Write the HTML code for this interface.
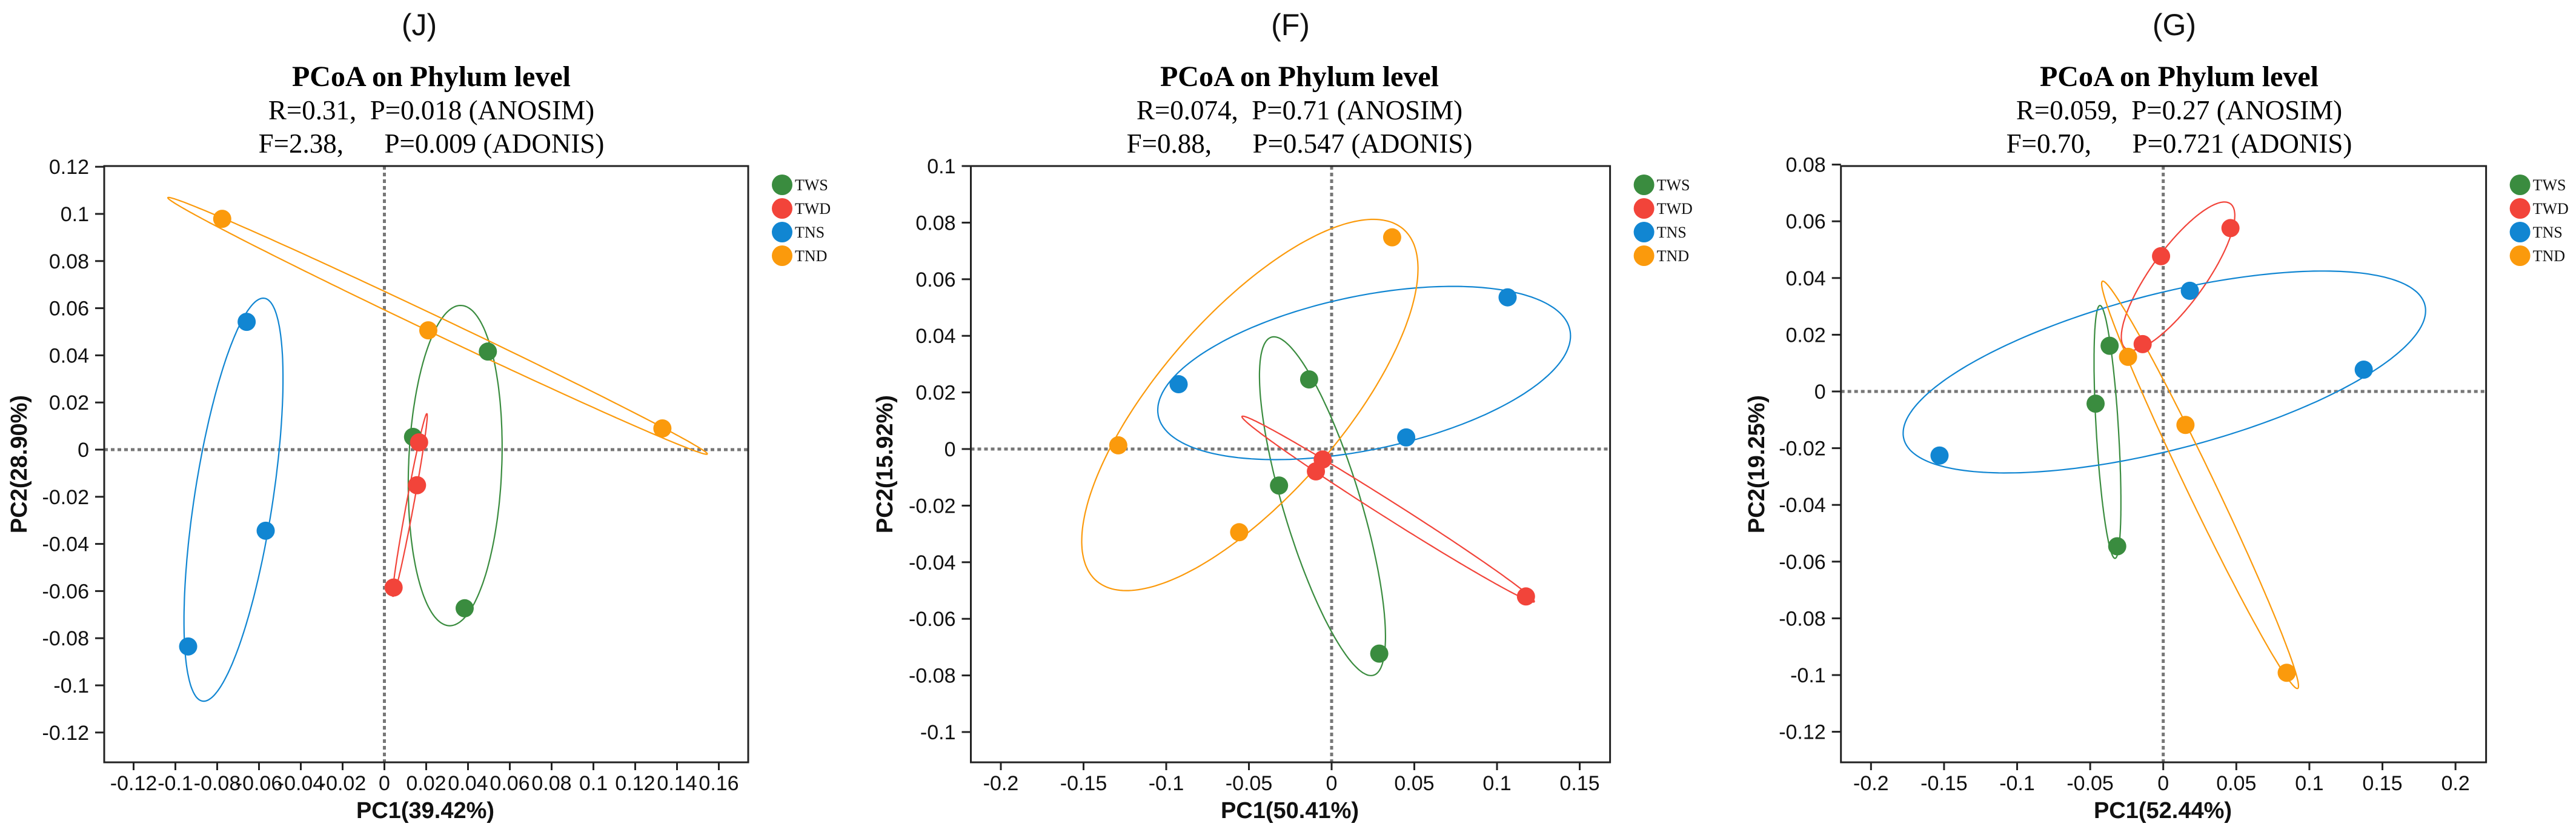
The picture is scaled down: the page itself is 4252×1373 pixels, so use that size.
<!DOCTYPE html>
<html><head><meta charset="utf-8"><style>
html,body{margin:0;padding:0;background:#fff;}
svg{display:block;}
text{white-space:pre;}
</style></head><body>
<svg id="fig" xmlns="http://www.w3.org/2000/svg" width="4252" height="1373" viewBox="0 0 4252 1373"></svg>
<script>
// ---------- data ----------
const groups = ['TWS','TWD','TNS','TND'];
const groupColors = ['#3a8c3f','#f2443a','#1186d2','#fb9a0c'];

// Panel J
const jTWSx = [0.0137, 0.0495, 0.0384];  const jTWSy = [0.0054, 0.0416, -0.0673];
const jTWDx = [0.0166, 0.0156, 0.0044];  const jTWDy = [0.0031, -0.0151, -0.0585];
const jTNSx = [-0.0659, -0.0568, -0.0939]; const jTNSy = [0.0542, -0.0344, -0.0835];
const jTNDx = [-0.0776, 0.021, 0.133];   const jTNDy = [0.0979, 0.0506, 0.009];
const jXTicks = [-0.12,-0.1,-0.08,-0.06,-0.04,-0.02,0,0.02,0.04,0.06,0.08,0.1,0.12,0.14,0.16];
const jYTicks = [0.12,0.1,0.08,0.06,0.04,0.02,0,-0.02,-0.04,-0.06,-0.08,-0.1,-0.12];

// Panel F
const fTWSx = [-0.0136, -0.0318, 0.0288]; const fTWSy = [0.0246, -0.0129, -0.0723];
const fTWDx = [-0.0054, -0.0095, 0.1175]; const fTWDy = [-0.0037, -0.0079, -0.0521];
const fTNSx = [-0.0925, 0.0451, 0.1064];  const fTNSy = [0.0229, 0.0041, 0.0536];
const fTNDx = [-0.129, -0.0559, 0.0366];  const fTNDy = [0.0013, -0.0294, 0.0748];
const fXTicks = [-0.2,-0.15,-0.1,-0.05,0,0.05,0.1,0.15];
const fYTicks = [0.1,0.08,0.06,0.04,0.02,0,-0.02,-0.04,-0.06,-0.08,-0.1];

// Panel G
const gTWSx = [-0.0367, -0.0463, -0.0315]; const gTWSy = [0.0161, -0.0043, -0.0546];
const gTWDx = [-0.0015, 0.046, -0.0141];   const gTWDy = [0.0477, 0.0576, 0.0167];
const gTNSx = [-0.1531, 0.0182, 0.1372];   const gTNSy = [-0.0226, 0.0355, 0.0077];
const gTNDx = [-0.0241, 0.0152, 0.0845];   const gTNDy = [0.0122, -0.0118, -0.0992];
const gXTicks = [-0.2,-0.15,-0.1,-0.05,0,0.05,0.1,0.15,0.2];
const gYTicks = [0.08,0.06,0.04,0.02,0,-0.02,-0.04,-0.06,-0.08,-0.1,-0.12];

const ellipseScale = 1.225;

// ---------- layout ----------
const NS = 'http://www.w3.org/2000/svg';
const svg = document.getElementById('fig');
function mk(tag, attrs, parent){
  const e = document.createElementNS(NS, tag);
  for (const k in attrs) e.setAttribute(k, attrs[k]);
  (parent||svg).appendChild(e);
  return e;
}
function txt(str, attrs, parent){ const t = mk('text', attrs, parent); t.textContent = str; return t; }

const panels = [
  { id:'j', label:'(J)', labelX:692, titleX:712, r:'R=0.31,  P=0.018 (ANOSIM)', f:'F=2.38,      P=0.009 (ADONIS)',
    box:[172,274,1235,1258], x0:634.5, xUnit:0.02, xPx:69.0, y0:742, yUnit:0.02, yPx:77.8,
    xt:jXTicks, yt:jYTicks, xTitle:'PC1(39.42%)', xTitleX:702, yTitle:'PC2(28.90%)', yTitleX:31,
    xs:[jTWSx,jTWDx,jTNSx,jTNDx], ys:[jTWSy,jTWDy,jTNSy,jTNDy] },
  { id:'f', label:'(F)', labelX:2130, titleX:2145, r:'R=0.074,  P=0.71 (ANOSIM)', f:'F=0.88,      P=0.547 (ADONIS)',
    box:[1602.5,274,2657.6,1258], x0:2198, xUnit:0.05, xPx:136.5, y0:741, yUnit:0.02, yPx:93.4,
    xt:fXTicks, yt:fYTicks, xTitle:'PC1(50.41%)', xTitleX:2129, yTitle:'PC2(15.92%)', yTitleX:1460,
    xs:[fTWSx,fTWDx,fTNSx,fTNDx], ys:[fTWSy,fTWDy,fTNSy,fTNDy] },
  { id:'g', label:'(G)', labelX:3589, titleX:3597, r:'R=0.059,  P=0.27 (ANOSIM)', f:'F=0.70,      P=0.721 (ADONIS)',
    box:[3038.7,274,4103.6,1258], x0:3570.7, xUnit:0.05, xPx:120.6, y0:646, yUnit:0.02, yPx:93.6,
    xt:gXTicks, yt:gYTicks, xTitle:'PC1(52.44%)', xTitleX:3570, yTitle:'PC2(19.25%)', yTitleX:2899,
    xs:[gTWSx,gTWDx,gTNSx,gTNDx], ys:[gTWSy,gTWDy,gTNSy,gTNDy] }
];

function fmt(v){ return (Math.round(v*1000)/1000).toString(); }

panels.forEach(p => {
  const g = mk('g', {});
  
  
  const sx = v => p.x0 + v / p.xUnit * p.xPx;
  const sy = v => p.y0 - v / p.yUnit * p.yPx;
  const [L,T,R,B] = p.box;

  let e = txt(p.label, {x:p.labelX, y:58, 'font-family':'Liberation Sans, sans-serif', 'font-size':50, 'text-anchor':'middle', fill:'#111'}, g);
   
  e = txt('PCoA on Phylum level', {x:p.titleX, y:142, 'font-family':'Liberation Serif, serif', 'font-weight':'bold', 'font-size':48, 'text-anchor':'middle', fill:'#000'}, g);
   
  e = txt(p.r, {x:p.titleX, y:197, 'font-family':'Liberation Serif, serif', 'font-size':45, 'text-anchor':'middle', fill:'#000'}, g);
  e.style.whiteSpace = 'pre';
   
  e = txt(p.f, {x:p.titleX, y:252, 'font-family':'Liberation Serif, serif', 'font-size':45, 'text-anchor':'middle', fill:'#000'}, g);
  e.style.whiteSpace = 'pre';
   

  // zero lines
  e = mk('line', {x1:sx(0), x2:sx(0), y1:T, y2:B, stroke:'#777', 'stroke-width':5, 'stroke-dasharray':'6 5'}, g);
   
  e = mk('line', {x1:L, x2:R, y1:sy(0), y2:sy(0), stroke:'#777', 'stroke-width':5, 'stroke-dasharray':'6 5'}, g);
   

  // ellipses
  groups.forEach((gr, gi) => {
    const xs = p.xs[gi], ys = p.ys[gi], n = xs.length;
    const mx = xs.reduce((a,b)=>a+b,0)/n, my = ys.reduce((a,b)=>a+b,0)/n;
    let sxx=0, syy=0, sxy=0;
    for (let i=0;i<n;i++){ sxx+=(xs[i]-mx)**2; syy+=(ys[i]-my)**2; sxy+=(xs[i]-mx)*(ys[i]-my); }
    sxx/=(n-1); syy/=(n-1); sxy/=(n-1);
    const tr = sxx+syy, det = sxx*syy - sxy*sxy;
    const disc = Math.sqrt(Math.max(0, tr*tr/4 - det));
    const l1 = tr/2 + disc, l2 = Math.max(0, tr/2 - disc);
    const th = 0.5*Math.atan2(2*sxy, sxx - syy);
    const a = ellipseScale*Math.sqrt(l1), b = ellipseScale*Math.sqrt(l2);
    const pts = [];
    for (let k=0;k<=240;k++){
      const t = k/240*2*Math.PI;
      const ex = mx + a*Math.cos(t)*Math.cos(th) - b*Math.sin(t)*Math.sin(th);
      const ey = my + a*Math.cos(t)*Math.sin(th) + b*Math.sin(t)*Math.cos(th);
      pts.push(sx(ex).toFixed(1)+','+sy(ey).toFixed(1));
    }
    const el = mk('polyline', {points:pts.join(' '), fill:'none', stroke:groupColors[gi], 'stroke-width':2.2}, g);
    
    
  });

  // points
  groups.forEach((gr, gi) => {
    p.xs[gi].forEach((xv, i) => {
      const c = mk('circle', {cx:sx(xv), cy:sy(p.ys[gi][i]), r:15, fill:groupColors[gi]}, g);
      
      
    });
  });

  // box
  e = mk('rect', {x:L, y:T, width:R-L, height:B-T, fill:'none', stroke:'#222', 'stroke-width':3}, g);
   

  // y ticks
  p.yt.forEach(v => {
    const y = sy(v);
    const t = mk('line', {x1:L-15, x2:L, y1:y, y2:y, stroke:'#222', 'stroke-width':3}, g);
     
    const lb = txt(fmt(v), {x:L-25, y:y+12, 'font-family':'Liberation Sans, sans-serif', 'font-size':34, 'text-anchor':'end', fill:'#111'}, g);
     
  });
  // x ticks
  p.xt.forEach(v => {
    const x = sx(v);
    const t = mk('line', {x1:x, x2:x, y1:B, y2:B+13, stroke:'#222', 'stroke-width':3}, g);
     
    const lb = txt(fmt(v), {x:x, y:B+46, 'font-family':'Liberation Sans, sans-serif', 'font-size':34, 'text-anchor':'middle', fill:'#111'}, g);
     
  });

  e = txt(p.xTitle, {x:p.xTitleX, y:1350, 'font-family':'Liberation Sans, sans-serif', 'font-weight':'bold', 'font-size':38, 'text-anchor':'middle', fill:'#111'}, g);
   
  e = txt(p.yTitle, {x:0, y:0, 'font-family':'Liberation Sans, sans-serif', 'font-weight':'bold', 'font-size':38, 'text-anchor':'middle', fill:'#111',
    transform:'translate(' + (p.yTitleX+13) + ',' + ((T+B)/2) + ') rotate(-90)'}, g);
   

  // legend
  const lg = mk('g', {}, g);
  
  
  groups.forEach((gr, gi) => {
    const cy = 305 + gi*39;
    const c = mk('circle', {cx:R+56, cy:cy, r:17, fill:groupColors[gi]}, lg);
    
    
    const t = txt(gr, {x:R+77, y:cy+9, 'font-family':'Liberation Serif, serif', 'font-size':26, fill:'#111'}, lg);
    
    
  });
});
</script>
</body></html>
